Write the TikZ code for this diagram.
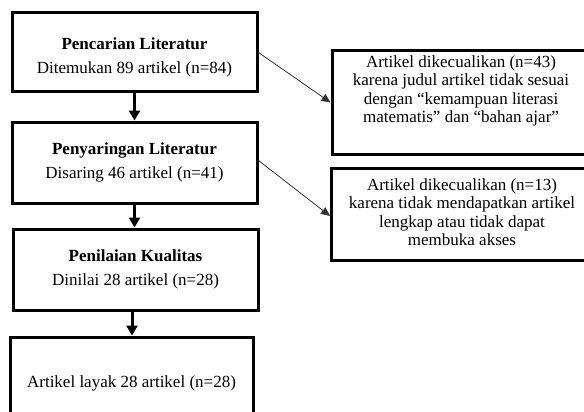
\documentclass[tikz,border=0pt]{standalone}
\usepackage{fontspec}
\setmainfont{Liberation Serif}
\usetikzlibrary{arrows.meta}
\begin{document}
\begin{tikzpicture}[x=1pt,y=-1pt,
  mainbox/.style={draw, line width=3pt, minimum width=245pt, align=center, inner sep=0pt, font=\fontsize{17}{19}\selectfont},
  sidebox/.style={draw, line width=3pt, minimum width=258pt},
  txt/.style={font=\fontsize{17}{18.5}\selectfont, align=center, inner sep=0pt},
  thickarrow/.style={line width=3pt, -{Triangle[length=10pt,width=11pt]}},
  thinarrow/.style={line width=0.8pt, black!80, -{Triangle[length=9pt,width=8pt]}}]
\useasboundingbox (0,0) rectangle (584,412);
\clip (0,0) rectangle (584,412);
% main column
\node[mainbox, minimum height=79pt] (b1) at (134.5,52.5)
  {\rule{0pt}{4pt}\\[-2pt]\textbf{Pencarian Literatur}\\[5pt] Ditemukan 89 artikel (n=84)};
\node[mainbox, minimum height=81pt] (b2) at (134.5,162.5)
  {\textbf{Penyaringan Literatur}\\[5pt] Disaring 46 artikel (n=41)};
\node[mainbox, minimum height=81pt] (b3) at (135.5,269.5)
  {\textbf{Penilaian Kualitas}\\[5pt] Dinilai 28 artikel (n=28)};
\node[mainbox, minimum width=243pt, minimum height=92pt] (b4) at (131.5,383)
  {Artikel layak 28 artikel (n=28)};
% side boxes
\node[sidebox, minimum height=103pt] (r1) at (461,102.5) {};
\node[txt] (r1t) at (461,91)
  {Artikel dikecualikan (n=43)\\ karena judul artikel tidak sesuai\\ dengan “kemampuan literasi\\ matematis” dan “bahan ajar”};
\node[sidebox, minimum height=92pt] (r2) at (460.5,214) {};
\node[txt] (r2t) at (462,212)
  {Artikel dikecualikan (n=13)\\ karena tidak mendapatkan artikel\\ lengkap atau tidak dapat\\ membuka akses};
% connectors
\draw[thickarrow] (b1.south) -- (b2.north);
\draw[thickarrow] (b2.south) -- (b2.south |- b3.north);
\draw[thickarrow] (b3.south -| 132,0) -- (132,0 |- b4.north);
\draw[thinarrow] (b1.east) -- (r1.west);
\draw[thinarrow] ([yshift=2pt]b2.east) -- ([yshift=-2pt]r2.west);
\end{tikzpicture}
\end{document}
